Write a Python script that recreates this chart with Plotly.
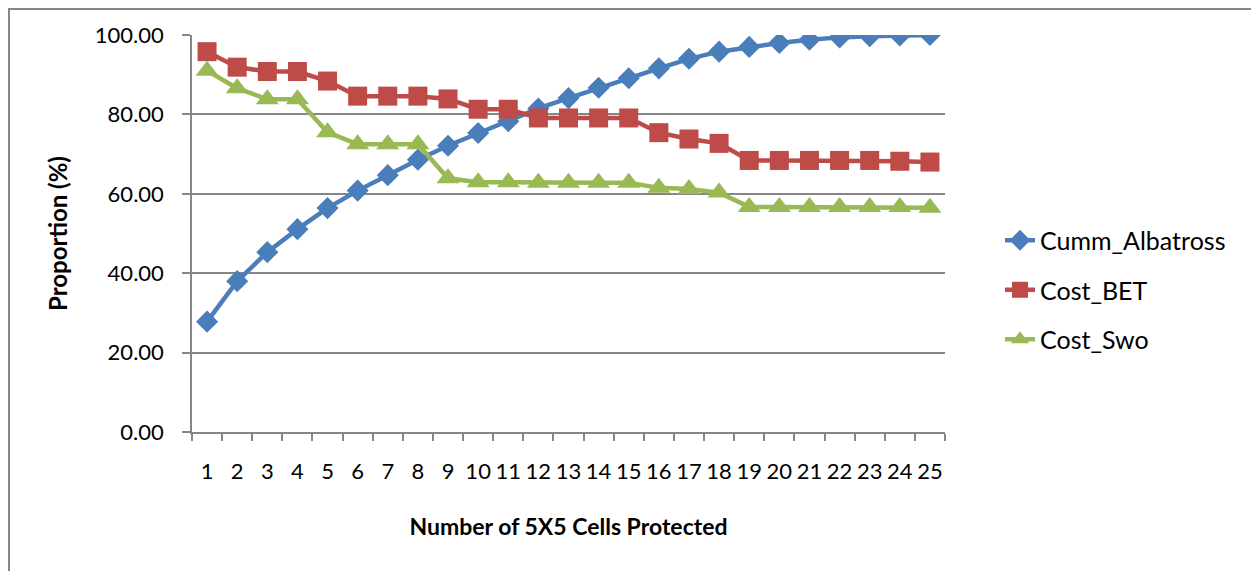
import plotly.graph_objects as go

cells = list(range(1, 26))
cumm_albatross = [27.8, 38.0, 45.3, 51.1, 56.4, 60.8, 64.7, 68.6, 72.1, 75.3, 78.3, 81.5, 84.1,
                  86.7, 89.1, 91.6, 94.0, 95.8, 97.0, 98.0, 98.8, 99.4, 99.7, 99.9, 100.0]
cost_bet = [95.8, 91.9, 90.8, 90.8, 88.4, 84.6, 84.6, 84.6, 83.9, 81.3, 81.3, 79.1, 79.1,
            79.1, 79.1, 75.4, 73.8, 72.7, 68.4, 68.4, 68.4, 68.4, 68.4, 68.2, 68.0]
cost_swo = [91.0, 86.6, 83.8, 83.8, 75.5, 72.5, 72.5, 72.5, 63.9, 62.9, 62.9, 62.8, 62.8,
            62.8, 62.8, 61.5, 61.2, 60.3, 56.7, 56.7, 56.7, 56.7, 56.7, 56.7, 56.5]
y_ticks = [0, 20, 40, 60, 80, 100]

FONT = "Lato, 'Liberation Sans', sans-serif"
GRID = "#868686"

fig = go.Figure()
fig.add_trace(go.Scatter(x=cells, y=cumm_albatross, name="Cumm_Albatross", mode="lines+markers",
                         line=dict(color="#4A7EBB", width=4.5),
                         marker=dict(symbol="diamond", size=17, color="#4A7EBB"),
                         legendgroup="a"))
fig.add_trace(go.Scatter(x=cells, y=cost_bet, name="Cost_BET", mode="lines+markers",
                         line=dict(color="#BE4B48", width=4.5),
                         marker=dict(symbol="square", size=19, color="#BE4B48"),
                         legendgroup="b"))
fig.add_trace(go.Scatter(x=cells, y=cost_swo, name="Cost_Swo", mode="lines+markers",
                         line=dict(color="#98B954", width=4.5),
                         marker=dict(symbol="triangle-up", size=20, color="#98B954"),
                         legendgroup="c"))

OFF = 8  # page body margin
L, R, T, B = 192 - OFF, 945 - OFF, 35 - OFF, 432 - OFF
W, H = 1259 - OFF, 571 - OFF
pw, ph = R - L, B - T

def px(x):
    return (x - OFF - L) / pw

def py(y):
    return (B - (y - OFF)) / ph

fig.update_layout(
    width=W, height=H,
    margin=dict(l=L, r=W - R, t=T, b=H - B, autoexpand=False),
    paper_bgcolor="white", plot_bgcolor="white",
    font=dict(family=FONT, size=22, color="black"),
    showlegend=True,
    legend=dict(x=px(1000), y=py(290), xanchor="left", yanchor="middle",
                font=dict(size=25), tracegroupgap=14, traceorder="grouped",
                bgcolor="rgba(0,0,0,0)"),
    xaxis=dict(range=[0.5, 25.5], tickmode="array", tickvals=cells,
               ticktext=[str(c) for c in cells], ticks="", showgrid=False,
               showline=True, linecolor=GRID, linewidth=1.5,
               tickfont=dict(size=22), zeroline=False, ticklabelstandoff=19,
               minor=dict(tick0=0.5, dtick=1, ticks="outside", ticklen=7,
                          tickcolor=GRID, tickwidth=1.5, showgrid=False),
               title=dict(text="<b>Number of 5X5 Cells Protected</b>", font=dict(size=23),
                          standoff=36)),
    yaxis=dict(range=[0, 100], tickmode="array", tickvals=y_ticks,
               ticktext=[f"{v:.2f}" for v in y_ticks],
               ticks="outside", ticklen=8, tickcolor=GRID, tickwidth=1.5,
               showgrid=True, gridcolor=GRID, gridwidth=1.5,
               showline=True, linecolor=GRID, linewidth=1.5, zeroline=False,
               tickfont=dict(size=22), ticklabelstandoff=14,
               title=dict(text="<b>Proportion (%)</b>", font=dict(size=24), standoff=20)),
)

fig.add_shape(type="rect", xref="paper", yref="paper",
              x0=px(9), x1=px(1254), y0=py(600), y1=py(9),
              line=dict(color=GRID, width=2), fillcolor="rgba(0,0,0,0)", layer="below")

fig.write_html("out.html")
